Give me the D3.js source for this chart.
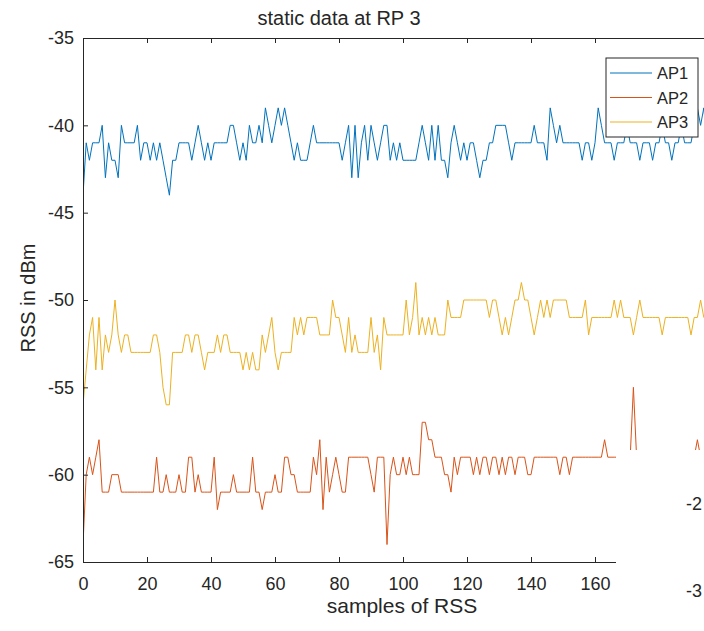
<!DOCTYPE html>
<html>
<head>
<meta charset="utf-8">
<script src="https://cdn.jsdelivr.net/npm/d3@7"></script>
<style>
  body { margin: 0; background: #fff; }
  text { font-family: "Liberation Sans", Arial, sans-serif; fill: #262626; }
</style>
</head>
<body>
<div id="viz"></div>
<script>
/* ===== Data ===== */
const seriesNames = ['AP1', 'AP2', 'AP3'];
const seriesColors = ['#0072BD', '#D95319', '#EDB120'];
const xTicks = [0, 20, 40, 60, 80, 100, 120, 140, 160];
const yTicks = [-35, -40, -45, -50, -55, -60, -65];

// AP1, one value per sample
const ap1 = [
  -44, -41, -42, -41, -41, -41, -40, -43, -41, -42,
  -42, -43, -40, -41, -41, -41, -41, -40, -42, -41,
  -41, -42, -41, -42, -41, -42, -43, -44, -42, -42,
  -41, -41, -41, -41, -42, -41, -40, -41, -42, -41,
  -42, -41, -41, -41, -41, -41, -40, -40, -41, -42,
  -41, -42, -40, -41, -41, -40, -41, -39, -40, -41,
  -40, -39, -40, -39, -40, -41, -42, -41, -42, -42,
  -42, -41, -40, -41, -41, -41, -41, -41, -41, -41,
  -41, -42, -41, -40, -43, -40, -43, -41, -40, -42,
  -40, -41, -42, -41, -40, -40, -42, -41, -42, -41,
  -42, -42, -42, -42, -42, -41, -40, -41, -42, -40,
  -42, -40, -42, -42, -43, -41, -40, -41, -42, -41,
  -42, -41, -41, -42, -43, -42, -42, -41, -41, -40,
  -40, -40, -40, -41, -42, -41, -41, -41, -41, -41,
  -41, -40, -41, -41, -41, -42, -39, -40, -41, -40,
  -41, -41, -41, -41, -41, -41, -42, -41, -41, -42,
  -41, -39, -40, -41, -41, -41, -42, -41, -41, -41,
  -40, -41, -41, -41, -42, -41, -41, -41, -42, -41,
  -41, -40, -41, -41, -42, -41, -41, -40, -41, -41,
  -41, -40, -39, -40, -39, -41
];

// AP2
const ap2 = [
  -64, -60, -59, -60, -59, -58, -61, -61, -61, -60,
  -60, -60, -61, -61, -61, -61, -61, -61, -61, -61,
  -61, -61, -61, -59, -61, -61, -60, -61, -61, -61,
  -60, -61, -61, -59, -59, -61, -60, -61, -61, -61,
  -61, -59, -62, -61, -61, -61, -61, -60, -61, -61,
  -61, -61, -61, -59, -61, -61, -62, -61, -61, -61,
  -60, -61, -61, -59, -59, -60, -60, -61, -61, -61,
  -61, -61, -59, -60, -58, -62, -59, -61, -60, -59,
  -60, -61, -61, -59, -59, -59, -59, -59, -59, -59,
  -60, -61, -59, -59, -59, -64, -60, -59, -60, -60,
  -59, -60, -59, -60, -60, -60, -57, -57, -58, -58,
  -59, -59, -59, -60, -60, -61, -59, -60, -59, -59,
  -59, -59, -60, -59, -60, -59, -59, -60, -59, -59,
  -60, -59, -60, -59, -59, -60, -59, -59, -59, -60,
  -60, -59, -59, -59, -59, -59, -59, -59, -59, -60,
  -59, -59, -60, -59, -59, -59, -59, -59, -59, -59,
  -59, -59, -59, -58, -59, -59, -59, -59, -59, -59,
  -59, -59, -55, -59, -59, -59, -59, -59, -59, -59,
  -59, -59, -59, -59, -59, -59, -59, -59, -59, -59,
  -59, -59, -58, -59, -59, -59
];

// AP3
const ap3 = [
  -56, -54, -52, -51, -54, -51, -54, -52, -53, -52,
  -50, -52, -53, -52, -52, -53, -53, -53, -53, -53,
  -53, -53, -52, -52, -53, -55, -56, -56, -53, -53,
  -53, -53, -52, -52, -53, -52, -52, -53, -54, -53,
  -53, -53, -52, -53, -52, -52, -53, -53, -53, -53,
  -54, -53, -54, -53, -54, -54, -52, -53, -52, -51,
  -53, -54, -53, -53, -53, -53, -51, -52, -51, -52,
  -51, -51, -51, -51, -52, -52, -52, -52, -50, -51,
  -51, -52, -53, -51, -53, -52, -53, -53, -53, -53,
  -51, -53, -52, -54, -51, -52, -52, -52, -52, -52,
  -52, -50, -52, -51, -49, -52, -51, -52, -51, -52,
  -51, -52, -52, -52, -50, -51, -51, -51, -51, -50,
  -50, -50, -50, -50, -50, -50, -50, -51, -50, -50,
  -51, -52, -51, -52, -51, -50, -50, -49, -50, -50,
  -51, -52, -51, -50, -51, -50, -51, -50, -50, -50,
  -50, -50, -51, -51, -51, -51, -51, -50, -52, -51,
  -51, -51, -51, -51, -51, -51, -50, -51, -50, -51,
  -51, -51, -52, -51, -50, -51, -51, -51, -51, -51,
  -51, -52, -51, -51, -51, -51, -51, -51, -51, -51,
  -52, -51, -51, -50, -51, -51
];

/* ===== Dimensions ===== */
const width = 704;
const height = 631;
const margin = { top: 38, left: 83 };
const plotRight = 723;   // axes box runs past the window edge
const plotBottom = 562;

const svg = d3.select('#viz')
  .append('svg')
  .attr('width', width)
  .attr('height', height);

/* ===== Scales ===== */
const xScale = d3.scaleLinear()
  .domain([0, 200])
  .range([margin.left, plotRight]);

const yScale = d3.scaleLinear()
  .domain([-65, -35])
  .range([plotBottom, margin.top]);

svg.append('clipPath')
  .attr('id', 'plot-clip')
  .append('rect')
  .attr('x', margin.left)
  .attr('y', margin.top)
  .attr('width', plotRight - margin.left)
  .attr('height', plotBottom - margin.top);

/* ===== Lines ===== */
const line = d3.line()
  .x((d, i) => xScale(i))
  .y(d => yScale(d));

const lines = svg.append('g').attr('clip-path', 'url(#plot-clip)');
[ap1, ap2, ap3].forEach((data, k) => {
  lines.append('path')
    .datum(data)
    .attr('fill', 'none')
    .attr('stroke', seriesColors[k])
    .attr('stroke-width', 1)
    .attr('stroke-linejoin', 'round')
    .attr('d', line);
});

/* ===== Axes ===== */
const axisColor = '#262626';
const plainNum = d => String(d);   // keep the ascii hyphen, like the original

const xAxis = d3.axisBottom(xScale)
  .tickValues(xTicks)
  .tickSizeInner(-5)
  .tickSizeOuter(0)
  .tickPadding(15)
  .tickFormat(plainNum);
const gx = svg.append('g')
  .attr('transform', `translate(0, ${plotBottom})`)
  .call(xAxis);

const xTop = d3.axisTop(xScale)
  .tickValues(xTicks)
  .tickSizeInner(-5)
  .tickSizeOuter(0)
  .tickFormat('');
const gxTop = svg.append('g')
  .attr('transform', `translate(0, ${margin.top})`)
  .call(xTop);

const yAxis = d3.axisLeft(yScale)
  .tickValues(yTicks)
  .tickSizeInner(-5)
  .tickSizeOuter(0)
  .tickPadding(9)
  .tickFormat(plainNum);
const gy = svg.append('g')
  .attr('transform', `translate(${margin.left}, 0)`)
  .call(yAxis);

[gx, gxTop, gy].forEach(g => {
  g.selectAll('path, line').attr('stroke', axisColor).attr('stroke-width', 1);
  g.selectAll('text')
    .style('font-family', '"Liberation Sans", Arial, sans-serif')
    .style('font-size', '18px')
    .attr('fill', '#404040');
});

/* ===== Patch from the overlapping picture ===== */
svg.append('rect')
  .attr('x', 616)
  .attr('y', 450)
  .attr('width', width - 616)
  .attr('height', height - 450)
  .attr('fill', '#fff');

svg.append('text')
  .attr('x', 686)
  .attr('y', 510)
  .style('font-size', '18px')
  .attr('fill', '#404040')
  .text('-2');
svg.append('text')
  .attr('x', 686)
  .attr('y', 597)
  .style('font-size', '18px')
  .attr('fill', '#404040')
  .text('-3');

/* ===== Titles ===== */
svg.append('text')
  .attr('x', 339)
  .attr('y', 25)
  .attr('text-anchor', 'middle')
  .style('font-size', '20px')
  .text('static data at RP 3');

svg.append('text')
  .attr('x', 402)
  .attr('y', 613)
  .attr('text-anchor', 'middle')
  .style('font-size', '21px')
  .attr('fill', '#404040')
  .text('samples of RSS');

svg.append('text')
  .attr('transform', `translate(35, ${(margin.top + plotBottom) / 2 - 2}) rotate(-90)`)
  .attr('text-anchor', 'middle')
  .style('font-size', '20px')
  .attr('fill', '#404040')
  .text('RSS in dBm');

/* ===== Legend ===== */
const legend = svg.append('g').attr('transform', 'translate(606, 58)');
legend.append('rect')
  .attr('width', 92)
  .attr('height', 79)
  .attr('fill', '#fff')
  .attr('stroke', axisColor)
  .attr('stroke-width', 1);

seriesNames.forEach((name, k) => {
  const y = 15 + k * 24.5;
  legend.append('line')
    .attr('x1', 4)
    .attr('x2', 46)
    .attr('y1', y)
    .attr('y2', y)
    .attr('stroke', seriesColors[k])
    .attr('stroke-width', 1);
  legend.append('text')
    .attr('x', 51)
    .attr('y', y + 6)
    .style('font-size', '16.5px')
    .text(name);
});
</script>
</body>
</html>
